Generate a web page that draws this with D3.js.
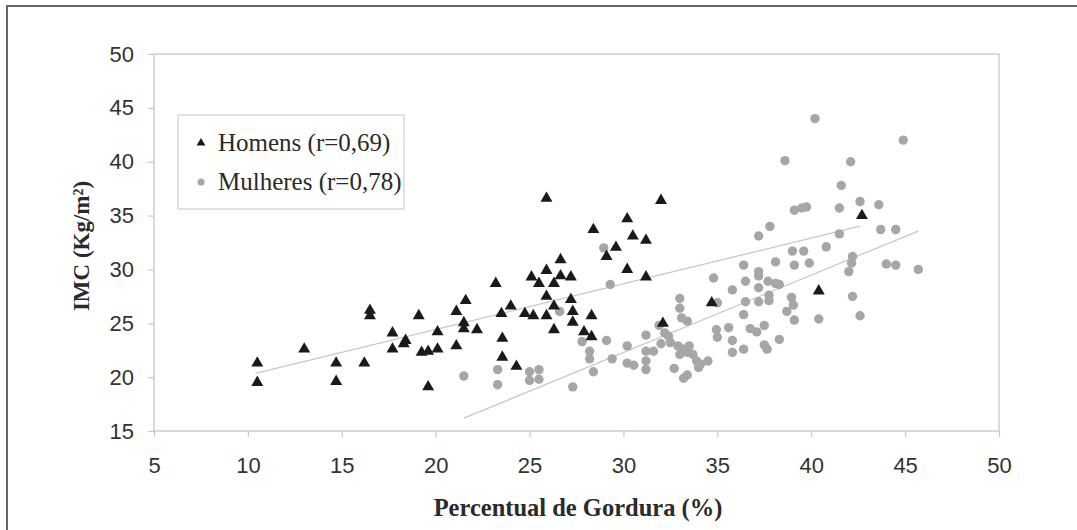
<!DOCTYPE html>
<html>
<head>
<meta charset="utf-8">
<script src="https://cdn.jsdelivr.net/npm/d3@7"></script>
<style>
  body { margin: 0; background: #fff; }
  .tick text { font-family: "Liberation Sans", Arial, sans-serif; font-size: 22px; fill: #333; }
  .tick line { stroke: #c8c8c8; stroke-width: 1.2; }
  .domain { display: none; }
</style>
</head>
<body>
<script>
var width  = 1077;
var height = 530;

// percentual de gordura (%), IMC (kg/m2)
var homensX = [10.5,10.5,13.0,14.7,14.7,16.2,16.5,16.5,17.7,17.7,18.4,18.3,19.1,19.25,19.6,20.1,20.1,19.6,21.1,21.1,21.6,21.5,21.5,22.2,
               23.2,23.5,23.55,23.55,24.0,24.3,24.75,25.2,25.1,25.5,25.9,25.9,25.9,25.9,26.3,26.3,26.3,26.65,26.65,27.2,27.2,27.3,27.3,
               28.3,27.9,28.3,28.4,29.1,29.6,30.2,30.5,30.2,31.2,31.2,32.0,32.1,34.7,40.4,42.7];
var homensY = [21.3,19.5,22.6,21.3,19.6,21.3,26.2,25.7,24.1,22.6,23.4,23.1,25.7,22.3,22.4,22.6,24.2,19.1,26.1,22.9,27.1,25.05,24.5,24.4,
               28.7,25.9,23.6,21.85,26.6,21.0,25.9,25.7,29.3,28.7,29.9,27.5,25.7,36.6,28.7,26.6,24.4,30.9,29.4,29.3,27.2,26.1,25.1,
               25.7,24.2,23.75,33.7,31.2,32.05,34.7,33.1,30.0,32.7,29.3,36.4,25.0,26.9,28.0,35.0];

var mulheresX = [21.5,23.3,23.3,25.0,25.5,25.0,25.5,26.6,27.3,27.8,28.2,28.2,28.4,28.95,29.3,29.1,29.4,30.2,30.2,30.55,
                 31.2,31.2,31.6,31.2,31.2,31.9,32.2,32.4,32.0,32.5,33.0,33.0,33.1,33.4,32.7,33.2,33.4,
                 32.9,33.2,33.5,33.0,33.4,33.7,33.9,34.1,34.5,34.0,34.8,35.0,34.95,35.0,35.6,35.8,35.8,35.8,36.4,
                 36.4,36.5,36.5,36.4,36.75,37.2,37.2,37.2,37.2,37.1,37.5,37.5,37.65,37.7,38.1,38.3,37.75,37.75,38.3,38.7,
                 38.95,39.05,39.1,38.1,39.1,39.9,39.0,39.6,40.8,40.4,42.2,42.15,42.0,42.2,42.6,44.0,44.5,45.7,
                 37.2,37.8,38.6,39.1,39.5,39.75,40.2,41.5,41.6,42.1,42.6,43.6,41.5,43.7,44.5,44.9];
var mulheresY = [20.1,20.7,19.3,20.5,20.7,19.7,19.8,26.1,19.1,23.3,22.4,21.7,20.5,32.0,28.6,23.4,21.7,22.9,21.3,21.1,
                 23.9,22.4,22.4,21.5,20.7,24.8,24.1,23.8,23.1,23.2,27.3,26.4,25.5,25.2,20.8,19.9,20.2,
                 22.9,22.6,22.9,22.1,22.3,22.1,21.5,21.2,21.5,20.9,29.2,26.9,24.4,23.7,24.6,28.1,23.4,22.3,22.6,
                 30.4,28.9,27.0,25.8,24.5,29.8,29.4,28.3,27.0,24.2,24.8,23.0,22.6,28.9,28.7,28.6,27.6,27.1,23.5,26.1,
                 27.4,26.7,25.3,30.7,30.4,30.6,31.7,31.7,32.1,25.4,31.2,30.6,29.8,27.5,25.7,30.5,30.4,30.0,
                 33.1,34.0,40.1,35.5,35.7,35.8,44.0,35.7,37.8,40.0,36.3,36.0,33.3,33.7,33.7,42.0];

// linhas de tendencia [x inicial, x final, inclinacao, intercepto]
var tendHomens   = [10.4, 42.6, 0.424, 15.95];
var tendMulheres = [21.5, 45.7, 0.718, 0.75];

var xTicks = [5,10,15,20,25,30,35,40,45,50];
var yTicks = [15,20,25,30,35,40,45,50];
var legendas = ["Homens (r=0,69)", "Mulheres (r=0,78)"];

var svg = d3.select("body").append("svg").attr("width", width).attr("height", height);

svg.append("rect").attr("x",0).attr("y",0).attr("width",width).attr("height",height).attr("fill","#fff");
// moldura externa
svg.append("rect").attr("x",7).attr("y",6).attr("width",1100).attr("height",560)
   .attr("fill","none").attr("stroke","#666").attr("stroke-width",2);

var x = d3.scaleLinear().domain([5,50]).range([154,999]);
var y = d3.scaleLinear().domain([15,50]).range([431,54]);

svg.append("rect").attr("x",x(5)).attr("y",y(50)).attr("width",x(50)-x(5)).attr("height",y(15)-y(50))
   .attr("fill","none").attr("stroke","#cdcdcd").attr("stroke-width",1.5);

svg.append("g").attr("transform","translate(0,"+y(15)+")")
   .call(d3.axisBottom(x).tickValues(xTicks).tickSize(6).tickPadding(20));
svg.append("g").attr("transform","translate("+x(5)+",0)")
   .call(d3.axisLeft(y).tickValues(yTicks).tickSize(6).tickPadding(14));

function addTrend(t) {
    svg.append("line").attr("x1",x(t[0])).attr("y1",y(t[2]*t[0]+t[3]))
       .attr("x2",x(t[1])).attr("y2",y(t[2]*t[1]+t[3]))
       .attr("stroke","#c8c8c8").attr("stroke-width",1.3);
}
addTrend(tendHomens);
addTrend(tendMulheres);

var tri = d3.symbol().type(d3.symbolTriangle).size(62);

svg.append("g").selectAll("circle").data(d3.range(mulheresX.length)).enter().append("circle")
   .attr("cx", function(i){return x(mulheresX[i]);})
   .attr("cy", function(i){return y(mulheresY[i]);})
   .attr("r", 4.7).attr("fill","#a6a6a6");

svg.append("g").selectAll("path").data(d3.range(homensX.length)).enter().append("path")
   .attr("d", tri)
   .attr("transform", function(i){return "translate("+x(homensX[i])+","+y(homensY[i])+")";})
   .attr("fill","#1a1a1a");

// legenda
svg.append("rect").attr("x",178).attr("y",115).attr("width",226).attr("height",94)
   .attr("fill","#fff").attr("stroke","#cdcdcd").attr("stroke-width",1.2);
svg.append("path").attr("d", d3.symbol().type(d3.symbolTriangle).size(34))
   .attr("transform","translate(201,143)").attr("fill","#1a1a1a");
svg.append("circle").attr("cx",201).attr("cy",182).attr("r",3.5).attr("fill","#a6a6a6");
svg.selectAll("text.leg").data(legendas).enter().append("text").attr("class","leg")
   .attr("x",218).attr("y",function(d,i){return 151+i*39;})
   .attr("font-family","'Liberation Serif','Times New Roman',serif").attr("font-size",25)
   .attr("fill","#2a2a2a").text(function(d){return d;});

// titulos dos eixos
svg.append("text").attr("x",578).attr("y",516).attr("text-anchor","middle")
   .attr("font-family","'Liberation Serif','Times New Roman',serif").attr("font-weight","bold")
   .attr("font-size",24.5).attr("fill","#2a2a2a").text("Percentual de Gordura (%)");
svg.append("text").attr("transform","translate(89,246) rotate(-90)").attr("text-anchor","middle")
   .attr("font-family","'Liberation Serif','Times New Roman',serif").attr("font-weight","bold")
   .attr("font-size",23).attr("fill","#2a2a2a").text("IMC (Kg/m²)");
</script>
</body>
</html>
